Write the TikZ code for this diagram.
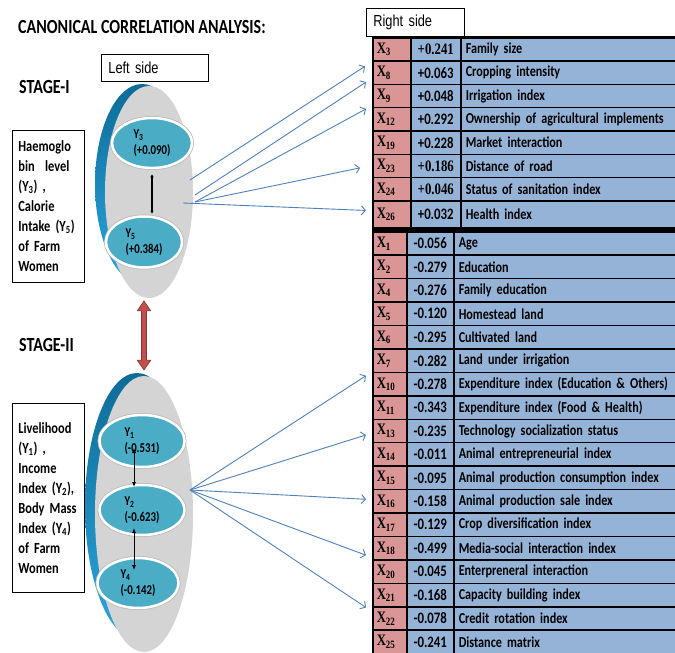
\documentclass[tikz,border=0pt]{standalone}
\usepackage{fontspec}
\setmainfont{Carlito}[FakeStretch=0.8]
\newfontfamily\arialfont{Liberation Sans}[FakeStretch=0.8]
\newfontfamily\timesfont{Liberation Serif}[FakeStretch=0.8]
\usetikzlibrary{arrows.meta, positioning, shapes.geometric}

\definecolor{xpink}{HTML}{D99694}
\definecolor{xblue}{HTML}{95B3D7}
\definecolor{ovalteal}{HTML}{4BACC6}
\definecolor{ovalgray}{HTML}{D4D4D4}
\definecolor{rimdark}{HTML}{0E6C97}
\definecolor{rimlight}{HTML}{2AA5DD}
\definecolor{linkblue}{HTML}{4F81BD}
\definecolor{stagered}{HTML}{C0504D}
\definecolor{stageredline}{HTML}{8B3230}

\begin{document}
\begin{tikzpicture}[
		x=1pt, y=-1pt,
		every node/.style={inner sep=0pt},
		heading/.style={anchor=west, font=\fontsize{20}{24}\selectfont\bfseries},
		sidebox/.style={draw, line width=0.8pt, anchor=north west, text width=#1, inner xsep=7pt, align=left, font=\arialfont\fontsize{16}{18}\selectfont},
		notebox/.style={draw, line width=0.8pt, anchor=north west, text width=60pt, inner xsep=6pt, align=left, font=\fontsize{15.5}{20}\selectfont\bfseries},
		rim/.style={ellipse, top color=rimdark, bottom color=rimlight},
		barrel/.style={ellipse, fill=ovalgray},
		yoval/.style={ellipse, fill=ovalteal, draw=white, line width=2.5pt, preaction={draw=gray!55, line width=4pt}, align=left, font=\fontsize{13.5}{16}\selectfont\bfseries},
		xcell/.style={draw, line width=1.5pt, fill=xpink, anchor=north west, text width=#1, inner xsep=4pt, align=left, font=\timesfont\fontsize{16}{16}\selectfont\bfseries},
		vcell/.style={draw, line width=1.5pt, fill=xblue, anchor=north west, font=\fontsize{16}{16}\selectfont\bfseries},
		ncell/.style={draw, line width=1.5pt, fill=xblue, anchor=north west, text width=240pt, inner xsep=5pt, align=left, font=\fontsize{15.2}{16}\selectfont\bfseries},
		link/.style={-{Straight Barb[length=4pt,width=9pt]}, linkblue, line width=0.9pt},
		pair/.style={{Latex[length=5pt,width=4pt]}-{Latex[length=5pt,width=4pt]}, line width=0.8pt}
		]

		\fill[white] (0,0) rectangle (675,653);
		\useasboundingbox (0,0) rectangle (675,653);

		% Headings
		\node[heading] (title) at (18,27) {CANONICAL CORRELATION ANALYSIS:};
		\node[heading] (stageI) at (19,87) {STAGE-I};
		\node[heading] (stageII) at (19,345) {STAGE-II};
		\node[sidebox=93pt, minimum height=27] (leftside) at (101,54) {Left side};
		\node[sidebox=84pt, minimum height=28] (rightside) at (366,8) {Right side};

		% Stage I
		\node[notebox, minimum height=152] (noteI) at (12,130) {Haemoglo\\bin~ level\\(Y\textsubscript{3}) ,\\Calorie\\Intake (Y\textsubscript{5})\\of Farm\\Women};
		\node[rim, minimum width=94, minimum height=200] (c1) at (142,184) {};
		\node[barrel, minimum width=88, minimum height=212] (g1) at (149,192) {};
		\node[yoval, minimum width=80, minimum height=50] (y3) at (152,143) {Y\textsubscript{3}\\(+0.090)};
		\node[yoval, minimum width=76, minimum height=51] (y5) at (144,242) {Y\textsubscript{5}\\(+0.384)};
		\draw[{Latex[length=3pt,width=3.5pt]}-{Latex[length=3pt,width=3.5pt]}, line width=2pt, shorten <=5pt, shorten >=1.5pt] (y3.south) -- (y3.south |- y5.north);

		% Stage II
		\node[notebox, minimum height=189] (noteII) at (12,403) {Livelihood\\(Y\textsubscript{1}) ,\\Income\\Index (Y\textsubscript{2}),\\Body Mass\\Index (Y\textsubscript{4})\\of Farm\\Women};
		\node[rim, minimum width=104, minimum height=266] (c2) at (137,506) {};
		\node[barrel, minimum width=98, minimum height=276] (g2) at (144,514) {};
		\node[yoval, minimum width=85, minimum height=52] (y1) at (142,441) {Y\textsubscript{1}\\(-0.531)};
		\node[yoval, minimum width=85, minimum height=50] (y2) at (142,510) {Y\textsubscript{2}\\(-0.623)};
		\node[yoval, minimum width=81, minimum height=50] (y4) at (138,583) {Y\textsubscript{4}\\(-0.142)};
		\draw[pair] ([xshift=-8pt,yshift=-7pt]y1.center) -- ([xshift=-8pt,yshift=23pt]y2.center);
		\draw[pair] ([xshift=-8pt,yshift=-18pt]y2.center) -- ([xshift=-4pt,yshift=13pt]y4.center);

		% Stage link
		\draw[line width=6.5pt, stageredline, {Triangle[length=11pt,width=14pt]}-{Triangle[length=11pt,width=14pt]}, shorten <=2pt, shorten >=5pt] (g1.south -| g2.north) -- (g2.north);
		\draw[line width=4.5pt, stagered, {Triangle[length=9.5pt,width=11pt]}-{Triangle[length=9.5pt,width=11pt]}, shorten <=3pt, shorten >=6pt] (g1.south -| g2.north) -- (g2.north);

		% Right side table
		\foreach \k/\v/\t [count=\i] in {3/{\timesfont +0.241}/Family size, 8/+0.063/Cropping intensity, 9/+0.048/Irrigation index, 12/+0.292/Ownership of agricultural implements, 19/+0.228/Market interaction, 23/{\timesfont +0.186}/Distance of road, 24/{\timesfont +0.046}/Status of sanitation index, 26/+0.032/Health index}{
			\pgfmathsetmacro\ry{37+23.3*(\i-1)}
			\pgfmathsetmacro\rh{\i==8 ? 27.2 : 23.3}
			\node[xcell=30pt, minimum height=\rh] (x\k) at (372,\ry) {X\textsubscript{\k}};
			\node[vcell, minimum width=50, minimum height=\rh] (v\k) at (410,\ry) {\v};
			\node[ncell, minimum height=\rh] (n\k) at (460,\ry) {\t};
		}
		\foreach \k/\v/\t [count=\i] in {1/-0.056/Age, 2/-0.279/Education, 4/-0.276/Family education, 5/-0.120/Homestead land, 6/-0.295/Cultivated land, 7/-0.282/Land under irrigation, 10/-0.278/{Expenditure index (Education \& Others)}, 11/-0.343/{Expenditure index (Food \& Health)}, 13/-0.235/Technology socialization status, 14/-0.011/Animal entrepreneurial index, 15/-0.095/Animal production consumption index, 16/-0.158/Animal production sale index, 17/-0.129/Crop diversification index, 18/-0.499/Media-social interaction index, 20/-0.045/Enterpreneral interaction, 21/-0.168/Capacity building index, 22/-0.078/Credit rotation index, 25/-0.241/Distance matrix}{
			\pgfmathsetmacro\ry{231+23.44*(\i-1)}
			\node[xcell=26pt, minimum height=23.44] (x\k) at (372,\ry) {X\textsubscript{\k}};
			\node[vcell, minimum width=47, minimum height=23.44] (v\k) at (406,\ry) {\v};
			\node[ncell, minimum height=23.44] (n\k) at (453,\ry) {\t};
		}
		\draw[line width=2.5pt] (x3.north west) -- (n3.north east);
		\draw[line width=3.8pt] ([yshift=-1.8pt]x26.south west) -- ([yshift=-1.8pt]n26.south east);

		% Arrows
		\coordinate (fanA) at (190,180);
		\coordinate (fanB) at (195,195);
		\coordinate (fanC) at (195,202);
		\coordinate (fanD) at (183,203);
		\coordinate (fanII) at (190,490);
		\draw[link] (fanA) -- ([xshift=-7pt,yshift=-6pt]x8.north west);
		\draw[link] (fanB) -- ([xshift=-6pt,yshift=3pt]x8.south west);
		\draw[link] (fanC) -- ([xshift=-6pt,yshift=-2pt]x12.north west);
		\draw[link] (fanC) -- ([xshift=-12pt,yshift=-2pt]x23.west);
		\draw[link] (fanD) -- ([xshift=-6pt,yshift=4pt]x26.west);
		\draw[link] (fanII) -- ([xshift=-6pt,yshift=-4pt]x10.north west);
		\draw[link] (fanII) -- ([xshift=-6pt,yshift=-4pt]x13.west);
		\draw[link] (fanII) -- ([xshift=-6pt,yshift=2pt]x16.west);
		\draw[link] (fanII) -- ([xshift=-6pt,yshift=-7pt]x18.west);
		\draw[link] (fanII) -- ([xshift=-6pt]x21.south west);

	\end{tikzpicture}
\end{document}
